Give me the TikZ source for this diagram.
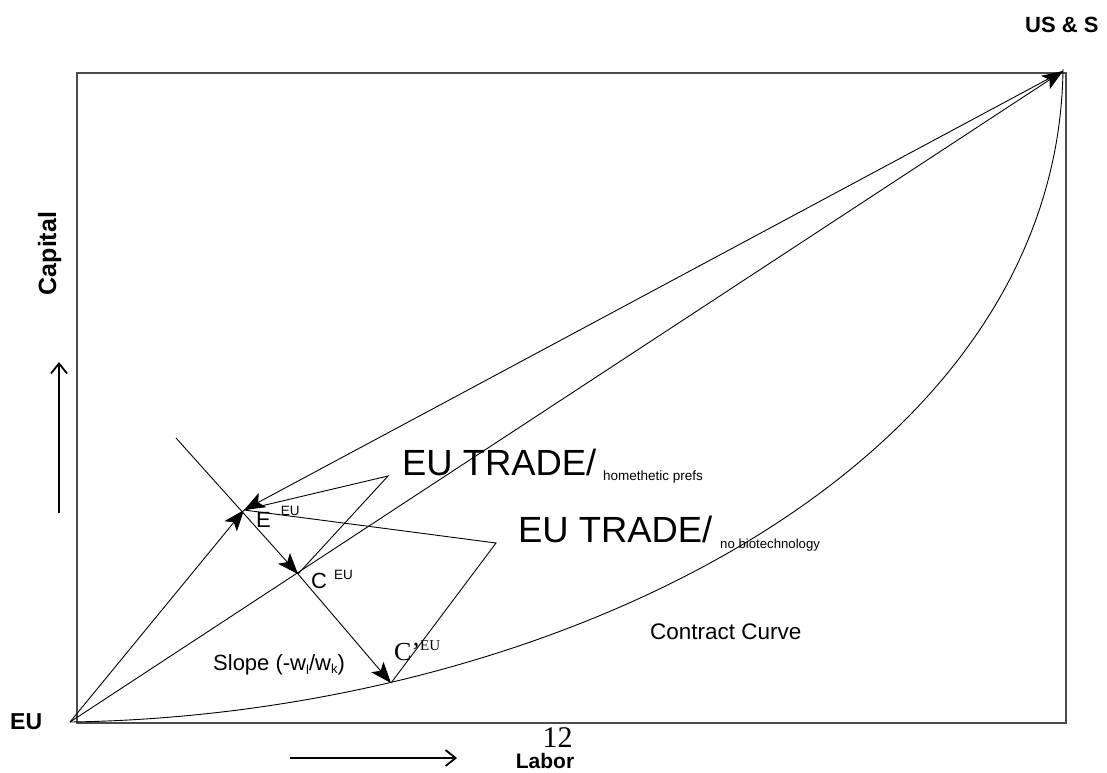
\documentclass[tikz,border=0pt]{standalone}
\usepackage{fontspec}
\setmainfont{Liberation Sans}
\newfontfamily\serifface{Liberation Serif}
\usetikzlibrary{arrows.meta}
\begin{document}
\begin{tikzpicture}[x=1pt,y=-1pt,
  ln/.style={line width=0.9pt},
  boxline/.style={line width=1.2pt, draw=black!70},
  bigtip/.style={ln,-{Stealth[length=21pt,width=16pt,inset=5pt]}},
  axarrow/.style={line width=1.5pt,-{Straight Barb[length=10pt,width=16pt,line width=1.8pt]}},
  lbl/.style={inner sep=0pt, anchor=base west},
  axlbl/.style={inner sep=0pt, font=\fontsize{23}{23}\selectfont\bfseries},
]
\useasboundingbox (0,0) rectangle (1107,772);
\fill[white] (0,0) rectangle (1107,772);
% frame
\draw[boxline] (77,73) rectangle (1066,723);
% points
\coordinate (O) at (70,722);
\coordinate (T) at (1063,71);
\coordinate (E) at (244,510);
\coordinate (C) at (298,574);
\coordinate (Cp) at (391,683);
\coordinate (P1) at (388,476);
\coordinate (P2) at (496,543);
\coordinate (L0) at (176,438);
\coordinate (Ctop) at (1063,69);
% contract curve
\draw[ln] (O) .. controls (550,715) and (1058,470) .. (Ctop);
% rays
\draw[bigtip] (O) -- (E);
\draw[bigtip] (T) -- (E);
\draw[bigtip] (O) -- (T);
\draw[bigtip] (L0) -- (C);
\draw[bigtip] (C) -- (Cp);
% trade triangles
\draw[ln] (E) -- (P1) -- (C);
\draw[ln] (E) -- (P2) -- (Cp);
% axis arrows
\coordinate (va) at (59,513);
\coordinate (vb) at (59,362);
\coordinate (ha) at (290,758);
\coordinate (hb) at (457,758);
\draw[axarrow] (va) -- (vb);
\draw[axarrow] (ha) -- (hb);
% labels
\node[lbl, font=\fontsize{22}{22}\selectfont] (Elab) at (256,527) {E\hspace{10pt}\raisebox{12pt}{\fontsize{13.5}{13.5}\selectfont EU}};
\node[lbl, font=\fontsize{22}{22}\selectfont] (Clab) at (311,588) {C\hspace{7pt}\raisebox{9pt}{\fontsize{13.5}{13.5}\selectfont EU}};
\node[lbl, font=\serifface\fontsize{26}{26}\selectfont] (Cplab) at (394,660) {C’\raisebox{10pt}{\fontsize{15}{15}\selectfont EU}};
\node[lbl, font=\fontsize{22}{22}\selectfont] (slope) at (213,670) {Slope (-w\raisebox{-4pt}{\fontsize{13}{13}\selectfont l}/w\raisebox{-3pt}{\fontsize{13}{13}\selectfont k})};
\node[lbl, font=\fontsize{36.4}{36.4}\selectfont] (t1) at (402,475) {EU TRADE/};
\node[lbl, font=\fontsize{13.5}{13.5}\selectfont] (t1s) at (603,480) {homethetic prefs};
\node[lbl, font=\fontsize{36.4}{36.4}\selectfont] (t2) at (518,542) {EU TRADE/};
\node[lbl, font=\fontsize{13.2}{13.2}\selectfont] (t2s) at (720,548) {no biotechnology};
\node[lbl, font=\fontsize{22.5}{22.5}\selectfont] (cc) at (650,639) {Contract Curve};
\node[axlbl, anchor=base, font=\fontsize{21}{21}\selectfont\bfseries] (labor) at (545,768) {Labor};
\node[inner sep=0pt, anchor=base, font=\serifface\fontsize{30}{30}\selectfont] (pg) at (557.5,747) {12};
\node[axlbl, anchor=base west, font=\fontsize{22}{22}\selectfont\bfseries] (us) at (1025,32) {US \& S};
\node[axlbl, anchor=base west] (eu) at (10,729) {EU};
\node[axlbl, anchor=base, rotate=90, font=\fontsize{25}{25}\selectfont\bfseries] (cap) at (56,253.5) {Capital};
\end{tikzpicture}
\end{document}
